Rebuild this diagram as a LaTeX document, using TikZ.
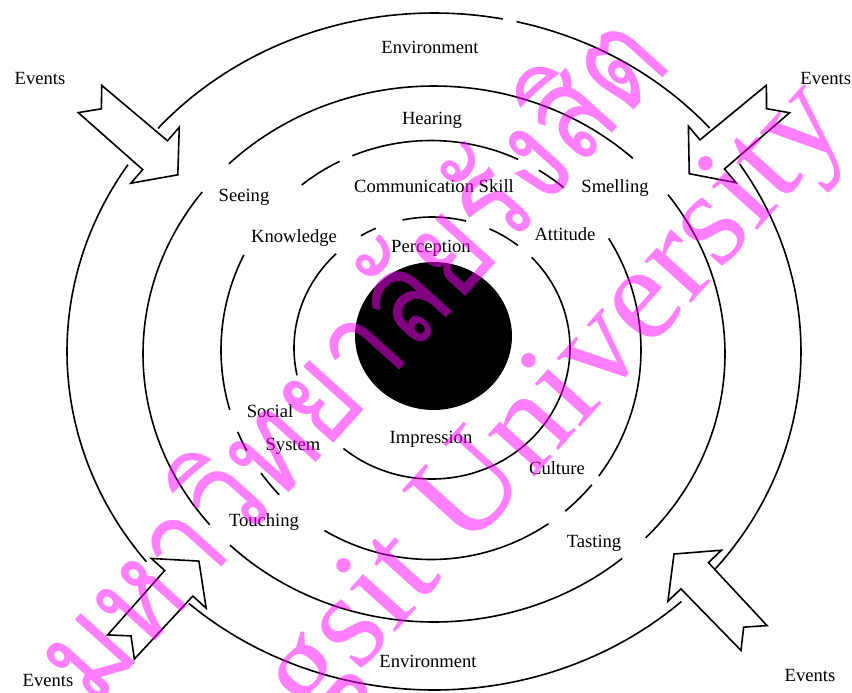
\documentclass[tikz,border=0pt]{standalone}
\usepackage{fontspec}
\setmainfont{Liberation Serif}
\newfontfamily\thaifont[Script=Thai]{Loma}
\definecolor{wmpink}{RGB}{255,0,255}
\newcommand{\earc}[6]{\draw[ring] plot[domain=#5:#6,samples=60,smooth,variable=\ang] ({#1+#3*cos(\ang)},{#2+#4*sin(\ang)});}
\newcommand{\blockarr}[4]{\begin{scope}[shift={(#2,#3)},rotate=#4]
  \draw[blockarrow] (0,-18) -- (86,-19) -- (86,-37) -- (116,0) -- (86,37) -- (86,19) -- (0,18) -- (15,0) -- cycle;
  \coordinate (#1) at (116,0);
\end{scope}}
\begin{document}
\begin{tikzpicture}[x=0.5pt,y=-0.5pt,
  ring/.style={line width=0.8pt},
  lbl/.style={font=\fontsize{9.3}{11}\selectfont, inner sep=0pt},
  blockarrow/.style={draw, fill=white, line width=0.8pt, line join=miter},
  wm/.style={text=wmpink, text opacity=0.5, inner sep=0pt}]
\fill[white] (0,0) rectangle (852,692);
\useasboundingbox (0,0) rectangle (852,692);

% ring 1 (Environment)
\earc{434}{351.5}{367}{338.5}{221.2}{280.8}
\earc{434}{351.5}{367}{338.5}{283}{318.7}
\earc{434}{351.5}{367}{338.5}{-33.6}{40}
\earc{434}{351.5}{367}{338.5}{47.6}{131.9}
\earc{434}{351.5}{367}{338.5}{141.6}{213.5}
% ring 2 (senses)
\earc{434}{354}{291}{268}{225.2}{313.1}
\earc{434}{354}{291}{268}{-36.5}{43.3}
\earc{434}{354}{291}{268}{49.7}{134.5}
\earc{434}{354}{291}{268}{140.4}{217.2}
% ring 3
\earc{431}{350}{210}{209.5}{163.4}{207}
\earc{431}{350}{210}{209.5}{151.3}{157}
\earc{431}{350}{210}{209.5}{136.3}{144}
\earc{431}{350}{210}{209.5}{56}{120.5}
\earc{431}{350}{210}{209.5}{40}{50.3}
\earc{431}{350}{210}{209.5}{-32.2}{37}
\earc{431}{350}{210}{209.5}{-59.1}{-50.8}
\earc{431}{350}{210}{209.5}{-112}{-65.5}
\earc{431}{350}{210}{209.5}{-128}{-115.8}
% ring 4
\earc{432}{348}{138}{131}{168}{226}
\earc{432}{348}{138}{131}{239}{246}
\earc{432}{348}{138}{131}{257.7}{284.3}
\earc{432}{348}{138}{131}{294.6}{308.5}
\earc{432}{348}{138}{131}{-43.8}{129.9}

% core
\fill plot[domain=0:360,samples=91,variable=\ang] ({433.5+78.5*cos(\ang)},{336+74*sin(\ang)}) -- cycle;

% event arrows
\blockarr{atl}{90}{99}{-40.8}
\blockarr{atr}{778}{99}{-139.9}
\blockarr{abl}{121}{647}{47.8}
\blockarr{abr}{754}{638}{133.6}

% labels
\node[lbl] (envtop) at (430,47) {Environment};
\node[lbl] (envbot) at (428,661) {Environment};
\node[lbl] (evtl) at (40,78) {Events};
\node[lbl,anchor=west] (evtr) at (800,78) {Events};
\node[lbl] (evbl) at (48,680) {Events};
\node[lbl] (evbr) at (810,675) {Events};
\node[lbl] (hear) at (432,120) {Hearing};
\node[lbl] (see) at (244,197) {Seeing};
\node[lbl] (comm) at (434,186) {Communication Skill};
\node[lbl] (smell) at (615,188) {Smelling};
\node[lbl] (know) at (294,238) {Knowledge};
\node[lbl] (perc) at (431,248) {Perception};
\node[lbl] (att) at (565,234) {Attitude};
\node[lbl] (soc) at (270,411) {Social};
\node[lbl] (sys) at (293,446) {System};
\node[lbl] (imp) at (431,439) {Impression};
\node[lbl] (cult) at (557,468) {Culture};
\node[lbl] (touch) at (264,522) {Touching};
\node[lbl] (taste) at (594,543) {Tasting};

% watermark
\node[wm, rotate=48, xscale=0.85, font=\thaifont\fontsize{66}{66}\selectfont] (wmth) at (345,352) {มหาวิทยาลัยรังสิต};
\node[wm, rotate=48, font=\fontsize{68}{68}\selectfont] (wmen) at (486,486) {Rangsit University};
\end{tikzpicture}
\end{document}
